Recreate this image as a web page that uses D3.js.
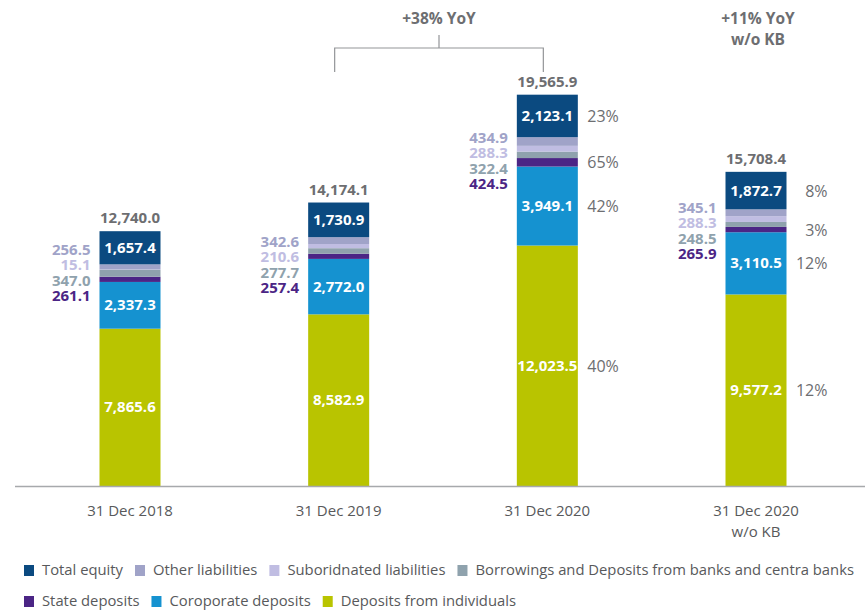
<!DOCTYPE html>
<html>
<head>
<meta charset="utf-8">
<script src="https://cdn.jsdelivr.net/npm/d3@7"></script>
<style>
  body { margin: 0; background: #fff; }
  svg { font-family: "Open Sans", "Noto Sans", sans-serif; }
</style>
</head>
<body>
<div id="chart"></div>
<script>
// data
const categories = ["31 Dec 2018", "31 Dec 2019", "31 Dec 2020", "31 Dec 2020\nw/o KB"];
const series = ["Deposits from individuals", "Coroporate deposits", "State deposits",
    "Borrowings and Deposits from banks and centra banks", "Suboridnated liabilities",
    "Other liabilities", "Total equity"];
const individuals = [7865.6, 8582.9, 12023.5, 9577.2];
const corporate = [2337.3, 2772.0, 3949.1, 3110.5];
const state = [261.1, 257.4, 424.5, 265.9];
const borrowings = [347.0, 277.7, 322.4, 248.5];
const subordinated = [15.1, 210.6, 288.3, 288.3];
const other = [256.5, 342.6, 434.9, 345.1];
const equity = [1657.4, 1730.9, 2123.1, 1872.7];
const totals = ["12,740.0", "14,174.1", "19,565.9", "15,708.4"];
// percent labels, bottom to top per series
const pct2020 = ["40%", "42%", "65%", null, null, null, "23%"];
const pctNoKB = ["12%", "12%", "3%", null, null, null, "8%"];
const pctLabels = [null, null, pct2020, pctNoKB];

const colors = ["#b9c400", "#1592d0", "#4b2585", "#8fa2ad", "#c0bde2", "#a0a3c8", "#0b4a80"];
const labelNudge = [0, 17, 9, 10];

const width = 865, height = 612;
const svg = d3.select("#chart").append("svg")
    .attr("width", width).attr("height", height);

const values = [individuals, corporate, state, borrowings, subordinated, other, equity];
const rows = categories.map((c, i) => {
    let r = {cat: c, idx: i};
    series.forEach((s, j) => r[s] = values[j][i]);
    return r;
});
const stacked = d3.stack().keys(series)(rows);

const x = d3.scalePoint().domain(categories).range([130, 756]);
const y = d3.scaleLinear().domain([0, 20000]).range([486, 86]);
const color = d3.scaleOrdinal().domain(series).range(colors);
const barW = 61;

// bars
svg.append("g").selectAll("g")
    .data(stacked).enter().append("g")
    .attr("fill", d => color(d.key))
    .selectAll("rect")
    .data(d => d).enter().append("rect")
    .attr("x", d => x(d.data.cat) - barW / 2)
    .attr("y", d => y(d[1]))
    .attr("width", barW)
    .attr("height", d => y(d[0]) - y(d[1]));

// axis line
svg.append("line")
    .attr("x1", 15).attr("x2", 865)
    .attr("y1", y(0) + 0.5).attr("y2", y(0) + 0.5)
    .attr("stroke", "#a7a9ac").attr("stroke-width", 1.5);

// x labels
svg.append("g").selectAll("text")
    .data(categories).enter().append("text")
    .attr("x", d => x(d))
    .attr("y", 516)
    .attr("text-anchor", "middle")
    .attr("fill", "#58595b")
    .style("font-size", "15px")
    .selectAll("tspan")
    .data(d => d.split("\n")).enter().append("tspan")
    .attr("x", function () { return x(d3.select(this.parentNode).datum()); })
    .attr("dy", (d, i) => i === 0 ? 0 : 21)
    .text(d => d);

// white labels inside the big segments
const inside = [0, 1, 6];
inside.forEach(j => {
    svg.append("g").selectAll("text")
        .data(stacked[j]).enter().append("text")
        .attr("x", d => x(d.data.cat))
        .attr("y", d => (y(d[0]) + y(d[1])) / 2 + 5)
        .attr("text-anchor", "middle")
        .attr("fill", "#fff")
        .style("font-weight", "bold")
        .style("font-size", "15px")
        .text(d => d3.format(",.1f")(d.data[series[j]]));
});

// totals
svg.append("g").selectAll("text")
    .data(stacked[6]).enter().append("text")
    .attr("x", d => x(d.data.cat))
    .attr("y", d => y(d[1]) - 8)
    .attr("text-anchor", "middle")
    .attr("fill", "#6d6e71")
    .style("font-weight", "bold")
    .style("font-size", "15px")
    .text((d, i) => totals[i]);

// left labels for thin segments (other, subordinated, borrowings, state)
const thin = [5, 4, 3, 2];
categories.forEach((c, i) => {
    const mid = (y(stacked[2][i][0]) + y(stacked[5][i][1])) / 2 + labelNudge[i];
    thin.forEach((j, k) => {
        svg.append("text")
            .attr("x", x(c) - barW / 2 - 9)
            .attr("y", mid + (k - 1.5) * 15.5 + 5)
            .attr("text-anchor", "end")
            .attr("fill", colors[j])
            .style("font-weight", "bold")
            .style("font-size", "15px")
            .text(values[j][i].toFixed(1));
    });
});

// percent labels
pctLabels.forEach((p, i) => {
    if (!p) return;
    p.forEach((t, j) => {
        if (!t) return;
        const s = stacked[j][i];
        svg.append("text")
            .attr("x", x(categories[i]) + barW / 2 + 41)
            .attr("y", (y(s[0]) + y(s[1])) / 2 + 6)
            .attr("text-anchor", "end")
            .attr("fill", "#6d6e71")
            .style("font-size", "16px")
            .text(t);
    });
});

// YoY bracket
const bx1 = x(categories[1]) - 4, bx2 = x(categories[2]) - 4, bm = (bx1 + bx2) / 2;
svg.append("path")
    .attr("d", `M${bx1},72V48H${bx2}V72M${bm},48V35`)
    .attr("fill", "none").attr("stroke", "#939598").attr("stroke-width", 1.2);
svg.append("text")
    .attr("x", bm).attr("y", 24)
    .attr("text-anchor", "middle").attr("fill", "#6d6e71")
    .style("font-weight", "bold").style("font-size", "15.5px")
    .text("+38% YoY");
svg.append("text")
    .attr("x", x(categories[3]) + 2).attr("y", 24)
    .attr("text-anchor", "middle").attr("fill", "#6d6e71")
    .style("font-weight", "bold").style("font-size", "15.5px")
    .text("+11% YoY");
svg.append("text")
    .attr("x", x(categories[3]) + 2).attr("y", 45)
    .attr("text-anchor", "middle").attr("fill", "#6d6e71")
    .style("font-weight", "bold").style("font-size", "15.5px")
    .text("w/o KB");

// legend
const legendRows = [[6, 5, 4, 3], [2, 1, 0]];
legendRows.forEach((row, r) => {
    let lx = 24;
    const ly = 570 + r * 31;
    row.forEach(j => {
        svg.append("rect")
            .attr("x", lx).attr("y", ly - 5)
            .attr("width", 10).attr("height", 11)
            .attr("fill", colors[j]);
        const t = svg.append("text")
            .attr("x", lx + 18).attr("y", ly + 5)
            .attr("fill", "#58595b")
            .style("font-size", "14.8px")
            .text(series[j]);
        lx += 18 + t.node().getComputedTextLength() + 12;
    });
});
</script>
</body>
</html>
